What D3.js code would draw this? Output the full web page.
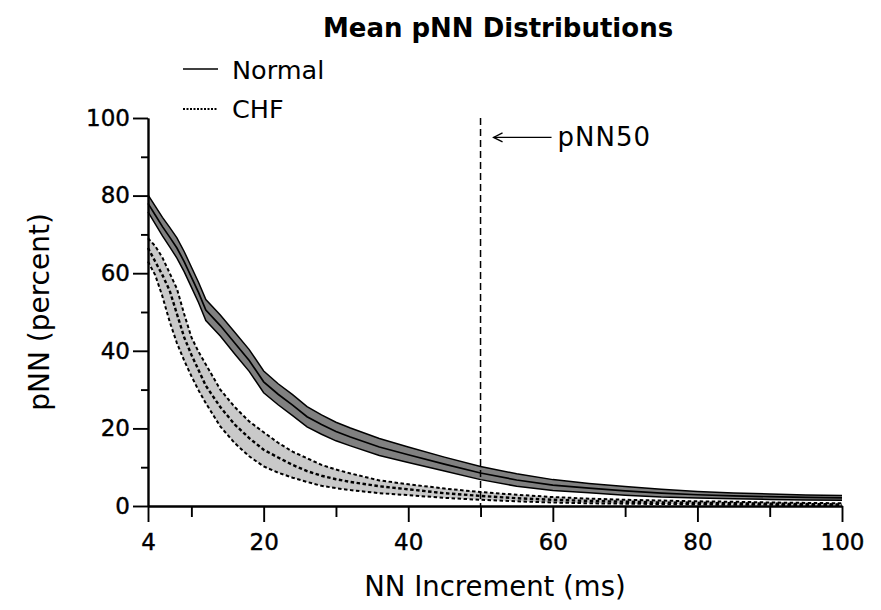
<!DOCTYPE html>
<html>
<head>
<meta charset="utf-8">
<script src="https://cdn.jsdelivr.net/npm/d3@7"></script>
<style>
  body { margin: 0; background: #fff; }
  svg { display: block; font-family: "DejaVu Sans", sans-serif; }
</style>
</head>
<body>
<div id="chart"></div>
<script>
// NN increment (ms)
let nnIncrement = [4, 5, 6, 7, 8, 9, 10, 11, 12, 14, 16, 18, 20, 22, 24, 26, 28, 30, 32, 36, 40, 45, 50, 55, 60, 65, 70, 75, 80, 85, 90, 95, 100];

// Normal: mean and band
let normalMean  = [78, 75, 72, 69.3, 66.5, 63, 59, 55, 50.5, 46.5, 42, 37.5, 32, 28.8, 26, 23, 21, 19.2, 17.8, 15.2, 13.2, 10.8, 8.5, 6.7, 5.4, 4.6, 3.9, 3.3, 2.9, 2.6, 2.4, 2.2, 2.1];
let normalUpper = [80.2, 77.3, 74.4, 71.8, 69.1, 65.6, 61.6, 57.6, 53.2, 49.2, 44.8, 40.3, 34.8, 31.5, 28.7, 25.6, 23.5, 21.6, 20.1, 17.4, 15.2, 12.6, 10.2, 8.3, 6.8, 5.8, 5.0, 4.3, 3.75, 3.35, 3.1, 2.85, 2.7];
let normalLower = [75.8, 72.7, 69.6, 66.8, 63.9, 60.4, 56.4, 52.4, 47.8, 43.8, 39.2, 34.7, 29.2, 26.1, 23.3, 20.4, 18.5, 16.8, 15.5, 13.0, 11.2, 9.0, 6.8, 5.1, 4.0, 3.4, 2.8, 2.3, 2.05, 1.85, 1.7, 1.55, 1.5];

// CHF: mean and band
let chfMean  = [66.5, 63, 59.5, 55.5, 49.5, 43.5, 39, 35, 31, 25.5, 21, 17.5, 14.5, 12.5, 10.6, 9.0, 7.8, 6.9, 6.2, 5.1, 4.3, 3.3, 2.6, 2.0, 1.6, 1.3, 1.1, 0.9, 0.8, 0.7, 0.6, 0.5, 0.4];
let chfUpper = [69, 67, 64, 60, 56, 49.5, 43.5, 39.7, 36.5, 30, 25.5, 21.8, 19, 16.3, 14, 12.3, 10.6, 9.4, 8.4, 6.6, 5.6, 4.5, 3.6, 2.9, 2.3, 1.9, 1.6, 1.4, 1.2, 1.1, 0.9, 0.8, 0.7];
let chfLower = [63, 59.5, 54, 47.5, 42, 37.5, 33.5, 29.8, 26.5, 20.5, 16.2, 12.8, 10.2, 8.6, 7.3, 6.2, 5.2, 4.6, 4.1, 3.3, 2.8, 2.1, 1.6, 1.2, 0.9, 0.7, 0.6, 0.5, 0.4, 0.3, 0.3, 0.2, 0.2];

let xMajor = [4, 20, 40, 60, 80, 100];
let xMinor = [10, 30, 50, 70, 90];
let yMajor = [0, 20, 40, 60, 80, 100];
let yMinor = [10, 30, 50, 70, 90];

let pnnMark = 50;

function main() {
    let normal = nnIncrement.map(function (d, i) {
        return {x: d, mean: normalMean[i], hi: normalUpper[i], lo: normalLower[i]};
    });
    let chf = nnIncrement.map(function (d, i) {
        return {x: d, mean: chfMean[i], hi: chfUpper[i], lo: chfLower[i]};
    });

    var margin = {top: 118, right: 39, bottom: 104, left: 148},
        width = 881 - margin.left - margin.right,
        height = 610 - margin.top - margin.bottom;

    var root = d3.select("#chart")
        .append("svg")
        .attr("width", 881)
        .attr("height", 610);

    var svg = root.append("g")
        .attr("transform", "translate(" + margin.left + "," + margin.top + ")");

    var x = d3.scaleLinear().domain([4, 100]).range([0, width]);
    var y = d3.scaleLinear().domain([0, 100]).range([height, 0]);

    var area = d3.area()
        .x(function (d) { return x(d.x); })
        .y0(function (d) { return y(d.lo); })
        .y1(function (d) { return y(d.hi); });

    function line(key) {
        return d3.line()
            .x(function (d) { return x(d.x); })
            .y(function (d) { return y(d[key]); });
    }

    // Normal band
    svg.append("path").datum(normal)
        .attr("fill", "#808080")
        .attr("d", area);
    ["hi", "lo"].forEach(function (k) {
        svg.append("path").datum(normal)
            .attr("fill", "none").attr("stroke", "#000").attr("stroke-width", 1.5)
            .attr("d", line(k));
    });
    svg.append("path").datum(normal)
        .attr("fill", "none").attr("stroke", "#000").attr("stroke-width", 1.7)
        .attr("d", line("mean"));

    // CHF band
    svg.append("path").datum(chf)
        .attr("fill", "#c9c9c9")
        .attr("d", area);
    ["hi", "lo", "mean"].forEach(function (k) {
        svg.append("path").datum(chf)
            .attr("fill", "none").attr("stroke", "#000")
            .attr("stroke-width", k === "mean" ? 2.4 : 2)
            .attr("stroke-dasharray", "3.5,2.5")
            .attr("d", line(k));
    });

    // pNN50 marker
    svg.append("line")
        .attr("x1", x(pnnMark)).attr("x2", x(pnnMark))
        .attr("y1", y(100)).attr("y2", y(0))
        .attr("stroke", "#000").attr("stroke-width", 1.5)
        .attr("stroke-dasharray", "7,4");

    var ay = y(95);
    var ax = x(pnnMark) + 13;
    svg.append("line")
        .attr("x1", ax).attr("x2", ax + 58)
        .attr("y1", ay).attr("y2", ay)
        .attr("stroke", "#000").attr("stroke-width", 1.3);
    svg.append("path")
        .attr("d", "M" + (ax + 9) + "," + (ay - 4.5) + "L" + ax + "," + ay + "L" + (ax + 9) + "," + (ay + 4.5))
        .attr("fill", "none").attr("stroke", "#000").attr("stroke-width", 1.3);
    svg.append("text")
        .attr("x", ax + 64).attr("y", ay + 9)
        .attr("font-size", 26)
        .attr("letter-spacing", 1)
        .text("pNN50");

    // axes
    svg.append("g")
        .attr("transform", "translate(0," + height + ")")
        .call(d3.axisBottom(x).tickValues(xMajor).tickSize(16).tickSizeOuter(0).tickPadding(12));
    svg.append("g")
        .attr("transform", "translate(0," + height + ")")
        .call(d3.axisBottom(x).tickValues(xMinor).tickSize(11).tickSizeOuter(0).tickFormat(""));
    svg.append("g")
        .call(d3.axisLeft(y).tickValues(yMajor).tickSize(15).tickSizeOuter(0).tickPadding(3));
    svg.append("g")
        .call(d3.axisLeft(y).tickValues(yMinor).tickSize(7).tickSizeOuter(0).tickFormat(""));

    svg.selectAll(".domain, .tick line")
        .attr("stroke", "#000").attr("stroke-width", 1.9);
    svg.selectAll(".tick text")
        .attr("fill", "#000")
        .attr("stroke", "#000").attr("stroke-width", 0.4)
        .style("font-family", "DejaVu Sans")
        .style("font-size", "23px");

    // titles
    root.append("text")
        .attr("x", 498).attr("y", 37)
        .attr("text-anchor", "middle")
        .attr("font-weight", "bold")
        .attr("font-size", 26)
        .text("Mean pNN Distributions");

    root.append("text")
        .attr("x", margin.left + x(52)).attr("y", 596)
        .attr("text-anchor", "middle")
        .attr("font-size", 27.5)
        .text("NN Increment (ms)");

    root.append("text")
        .attr("transform", "translate(49," + (margin.top + y(50)) + ") rotate(-90)")
        .attr("text-anchor", "middle")
        .attr("font-size", 28)
        .text("pNN (percent)");

    // legend
    var legend = root.append("g");
    legend.append("line")
        .attr("x1", 183).attr("x2", 218).attr("y1", 69).attr("y2", 69)
        .attr("stroke", "#000").attr("stroke-width", 1.4);
    legend.append("text")
        .attr("x", 232).attr("y", 79)
        .attr("font-size", 25.5)
        .text("Normal");
    legend.append("line")
        .attr("x1", 183).attr("x2", 218).attr("y1", 109).attr("y2", 109)
        .attr("stroke", "#000").attr("stroke-width", 1.8)
        .attr("stroke-dasharray", "2,1.5");
    legend.append("text")
        .attr("x", 232).attr("y", 118)
        .attr("font-size", 25.5)
        .text("CHF");
}

main();
</script>
</body>
</html>
